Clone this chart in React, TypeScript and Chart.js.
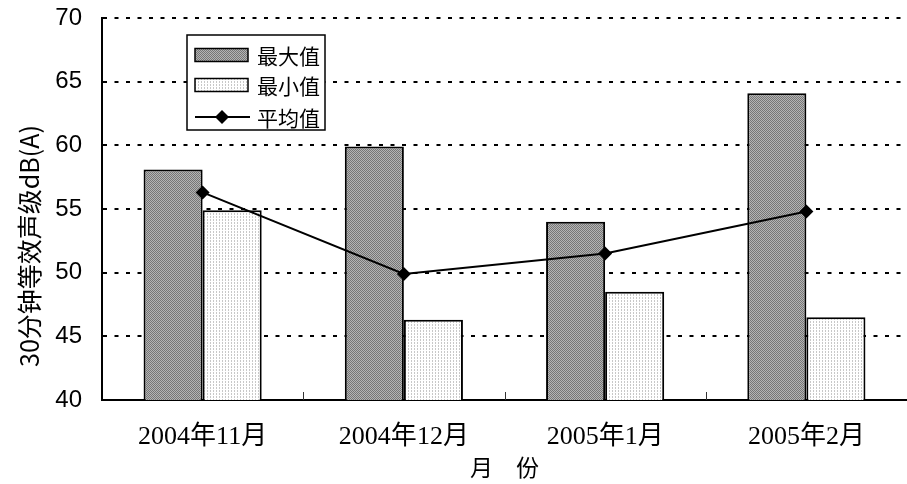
import React, { useEffect, useRef } from 'react';
import { Chart, registerables } from 'chart.js';
Chart.register(...registerables);

const categories = ['2004年11月', '2004年12月', '2005年1月', '2005年2月'];
const maxValues = [58.1, 59.9, 54.0, 64.1];
const minValues = [54.9, 46.3, 48.5, 46.5];
const avgValues = [56.3, 49.9, 51.5, 54.8];
const seriesNames = ['最大值', '最小值', '平均值'];
const yMin = 40;
const yMax = 70;
const yStep = 5;
const yTitle = '30分钟等效声级dB(A)';
const xTitle = '月　份';

const SERIF = '"Liberation Serif", "Noto Sans CJK SC", serif';
const SANS = '"Liberation Sans", Arial, sans-serif';
const CJK = '"Noto Sans CJK SC", "Liberation Serif", serif';

function makePattern(kind: string): CanvasPattern | string {
  const c = document.createElement('canvas');
  const ctx = c.getContext('2d');
  if (!ctx) return '#999';
  if (kind === 'max') {
    c.width = 2; c.height = 2;
    ctx.fillStyle = '#b4b4b4';
    ctx.fillRect(0, 0, 2, 2);
    ctx.fillStyle = '#767676';
    ctx.fillRect(0, 0, 1, 1);
    ctx.fillRect(1, 1, 1, 1);
  } else {
    c.width = 3; c.height = 3;
    ctx.fillStyle = '#ffffff';
    ctx.fillRect(0, 0, 3, 3);
    ctx.fillStyle = '#c8c8c8';
    ctx.fillRect(0, 0, 1, 2);
  }
  const p = ctx.createPattern(c, 'repeat');
  return p || '#999';
}

const zeroPad = (s: any) => {
  s.paddingTop = 0;
  s.paddingBottom = 0;
  s.paddingLeft = 0;
  s.paddingRight = 0;
};

const customDraw = {
  id: 'customDraw',
  afterDraw(chart: any) {
    const ctx = chart.ctx;
    const area = chart.chartArea;
    const xs = chart.scales.x;
    // category separator ticks (inside, upward)
    ctx.save();
    ctx.strokeStyle = '#333';
    ctx.lineWidth = 1;
    for (let i = 1; i < categories.length; i++) {
      const x = Math.round((xs.getPixelForValue(i - 1) + xs.getPixelForValue(i)) / 2) + 0.5;
      ctx.beginPath();
      ctx.moveTo(x, area.bottom);
      ctx.lineTo(x, area.bottom - 8);
      ctx.stroke();
    }
    ctx.restore();

    // y title
    ctx.save();
    ctx.translate(29, 246);
    ctx.rotate(-Math.PI / 2);
    ctx.fillStyle = '#000';
    ctx.font = '25px ' + CJK;
    ctx.textAlign = 'center';
    ctx.textBaseline = 'middle';
    ctx.fillText(yTitle, 0, 0);
    ctx.restore();

    // legend
    const ds = chart.data.datasets;
    const bx = 187, by = 35, bw = 138, bh = 95;
    ctx.save();
    ctx.fillStyle = '#fff';
    ctx.fillRect(bx, by, bw, bh);
    ctx.strokeStyle = '#000';
    ctx.lineWidth = 1.5;
    ctx.strokeRect(bx, by, bw, bh);
    const rows = [55, 85, 117];
    ctx.font = '21px ' + CJK;
    ctx.textBaseline = 'middle';
    ctx.textAlign = 'left';
    for (let i = 0; i < 3; i++) {
      const y = rows[i];
      const d = ds[i];
      if (d.type === 'line') {
        ctx.strokeStyle = '#000';
        ctx.lineWidth = 2;
        ctx.beginPath();
        ctx.moveTo(195, y);
        ctx.lineTo(250, y);
        ctx.stroke();
        ctx.fillStyle = '#000';
        ctx.beginPath();
        ctx.moveTo(222, y - 7);
        ctx.lineTo(229, y);
        ctx.lineTo(222, y + 7);
        ctx.lineTo(215, y);
        ctx.closePath();
        ctx.fill();
      } else {
        ctx.fillStyle = d.backgroundColor;
        ctx.fillRect(195, y - 6.5, 53, 13);
        ctx.strokeStyle = '#000';
        ctx.lineWidth = 1.5;
        ctx.strokeRect(195, y - 6.5, 53, 13);
      }
      ctx.fillStyle = '#000';
      ctx.fillText(d.label, 257, y + 1);
    }
    ctx.restore();
  },
};

export default function App() {
  const ref = useRef<HTMLCanvasElement | null>(null);
  useEffect(() => {
    if (!ref.current) return;
    const chart = new Chart(ref.current, {
      type: 'bar',
      data: {
        labels: categories,
        datasets: [
          {
            type: 'bar',
            label: seriesNames[0],
            data: maxValues,
            backgroundColor: makePattern('max') as any,
            borderColor: '#000',
            borderWidth: 2,
            categoryPercentage: 0.587,
            barPercentage: 1.0,
            order: 1,
          },
          {
            type: 'bar',
            label: seriesNames[1],
            data: minValues,
            backgroundColor: makePattern('min') as any,
            borderColor: '#000',
            borderWidth: 2,
            categoryPercentage: 0.587,
            barPercentage: 1.0,
            order: 1,
          },
          {
            type: 'line',
            label: seriesNames[2],
            data: avgValues,
            borderColor: '#000',
            borderWidth: 2,
            backgroundColor: '#000',
            pointStyle: 'rectRot',
            pointRadius: 7,
            pointBackgroundColor: '#000',
            pointBorderColor: '#000',
            pointBorderWidth: 0,
            fill: false,
            tension: 0,
            order: 0,
          } as any,
        ],
      },
      options: {
        responsive: false,
        animation: false,
        layout: { autoPadding: false, padding: { top: 18, right: 0, left: 0, bottom: 0 } },
        plugins: {
          legend: { display: false },
          tooltip: { enabled: false },
          title: { display: false },
        },
        scales: {
          x: {
            afterFit: (s: any) => { s.height = 84; zeroPad(s); },
            grid: { display: false, drawTicks: false },
            border: { display: true, color: '#000', width: 2 },
            ticks: {
              color: '#000',
              padding: 22,
              font: { family: SERIF, size: 26 },
              maxRotation: 0,
              autoSkip: false,
            },
            title: {
              display: true,
              text: xTitle,
              color: '#000',
              font: { family: CJK, size: 23 },
              padding: { top: 0, bottom: 3 },
            },
          },
          y: {
            min: yMin,
            max: yMax,
            afterFit: (s: any) => { s.width = 102; zeroPad(s); },
            grid: { color: '#000', lineWidth: 2, drawTicks: false },
            border: { display: true, color: '#000', width: 2, dash: [4, 7.5] },
            ticks: {
              stepSize: yStep,
              color: '#000',
              padding: 20,
              font: { family: SANS, size: 24 },
            },
          },
        },
      },
      plugins: [customDraw],
    });
    return () => chart.destroy();
  }, []);
  return (
    <div style={{ position: 'absolute', left: 0, top: 0, width: 907, height: 484, background: '#fff' }}>
      <canvas ref={ref} width={907} height={484} style={{ display: 'block' }} />
    </div>
  );
}
